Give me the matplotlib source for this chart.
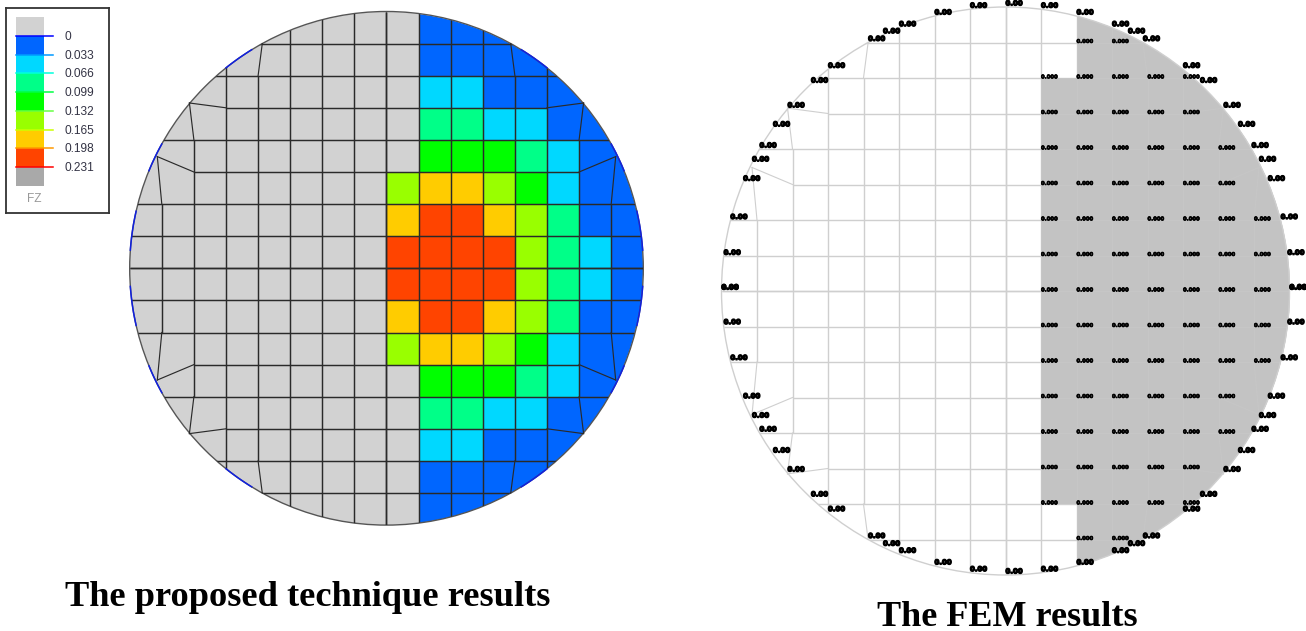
import numpy as np
import matplotlib
matplotlib.use('Agg')
import matplotlib.pyplot as plt
import matplotlib.patheffects as pe
from matplotlib.colors import ListedColormap
from matplotlib.patches import Circle, Rectangle

W, H = 1306, 631

# legend
legend_values = ['0', '0.033', '0.066', '0.099', '0.132', '0.165', '0.198', '0.231']
band_colors = ['#d2d2d2', '#0066ff', '#00d8ff', '#00ff88', '#00ff00', '#99ff00', '#ffcc00', '#ff4400', '#a9a9a9']
tick_colors = ['#0000ff', '#0099ff', '#00ffdd', '#00ff44', '#66ff44', '#ccff00', '#ff9900', '#ff0000']

# band number of each mesh cell, proposed technique (top row first)
proposed = [
    [0, 0, 0, 0, 0, 0, 0, 0, 0, 1, 1, 1, 1, 1, 1, 1],
    [0, 0, 0, 0, 0, 0, 0, 0, 0, 1, 1, 1, 1, 1, 1, 1],
    [0, 0, 0, 0, 0, 0, 0, 0, 0, 2, 2, 1, 1, 1, 1, 1],
    [0, 0, 0, 0, 0, 0, 0, 0, 0, 3, 3, 2, 2, 1, 1, 1],
    [0, 0, 0, 0, 0, 0, 0, 0, 0, 4, 4, 4, 3, 2, 1, 1],
    [0, 0, 0, 0, 0, 0, 0, 0, 5, 6, 6, 5, 4, 2, 1, 1],
    [0, 0, 0, 0, 0, 0, 0, 0, 6, 7, 7, 6, 5, 3, 1, 1],
    [0, 0, 0, 0, 0, 0, 0, 0, 7, 7, 7, 7, 5, 3, 2, 1],
    [0, 0, 0, 0, 0, 0, 0, 0, 7, 7, 7, 7, 5, 3, 2, 1],
    [0, 0, 0, 0, 0, 0, 0, 0, 6, 7, 7, 6, 5, 3, 1, 1],
    [0, 0, 0, 0, 0, 0, 0, 0, 5, 6, 6, 5, 4, 2, 1, 1],
    [0, 0, 0, 0, 0, 0, 0, 0, 0, 4, 4, 4, 3, 2, 1, 1],
    [0, 0, 0, 0, 0, 0, 0, 0, 0, 3, 3, 2, 2, 1, 1, 1],
    [0, 0, 0, 0, 0, 0, 0, 0, 0, 2, 2, 1, 1, 1, 1, 1],
    [0, 0, 0, 0, 0, 0, 0, 0, 0, 1, 1, 1, 1, 1, 1, 1],
    [0, 0, 0, 0, 0, 0, 0, 0, 0, 1, 1, 1, 1, 1, 1, 1],
]

# 1 where the FEM plot shades the cell
fem_zone = [
    [0, 0, 0, 0, 0, 0, 0, 0, 0, 0, 1, 1, 1, 1, 1, 1],
    [0, 0, 0, 0, 0, 0, 0, 0, 0, 0, 1, 1, 1, 1, 1, 1],
    [0, 0, 0, 0, 0, 0, 0, 0, 0, 1, 1, 1, 1, 1, 1, 1],
    [0, 0, 0, 0, 0, 0, 0, 0, 0, 1, 1, 1, 1, 1, 1, 1],
    [0, 0, 0, 0, 0, 0, 0, 0, 0, 1, 1, 1, 1, 1, 1, 1],
    [0, 0, 0, 0, 0, 0, 0, 0, 0, 1, 1, 1, 1, 1, 1, 1],
    [0, 0, 0, 0, 0, 0, 0, 0, 0, 1, 1, 1, 1, 1, 1, 1],
    [0, 0, 0, 0, 0, 0, 0, 0, 0, 1, 1, 1, 1, 1, 1, 1],
    [0, 0, 0, 0, 0, 0, 0, 0, 0, 1, 1, 1, 1, 1, 1, 1],
    [0, 0, 0, 0, 0, 0, 0, 0, 0, 1, 1, 1, 1, 1, 1, 1],
    [0, 0, 0, 0, 0, 0, 0, 0, 0, 1, 1, 1, 1, 1, 1, 1],
    [0, 0, 0, 0, 0, 0, 0, 0, 0, 1, 1, 1, 1, 1, 1, 1],
    [0, 0, 0, 0, 0, 0, 0, 0, 0, 1, 1, 1, 1, 1, 1, 1],
    [0, 0, 0, 0, 0, 0, 0, 0, 0, 1, 1, 1, 1, 1, 1, 1],
    [0, 0, 0, 0, 0, 0, 0, 0, 0, 0, 1, 1, 1, 1, 1, 1],
    [0, 0, 0, 0, 0, 0, 0, 0, 0, 0, 1, 1, 1, 1, 1, 1],
]

# mesh, in cell units from the disc centre (first quadrant, mirrored later)
radius = 8
v_lines = [(0, 8), (1, 8), (2, 8), (3, 8), (4, 6), (5, 8), (6, 4), (7, 2)]   # x, up to |y|
h_lines = [(0, 8), (1, 8), (2, 8), (3, 6), (4, 8), (5, 5), (6, 8), (7, 8)]   # y, up to |x|
bent_lines = [
    ([4, 3.87], [6, 7]),
    ([5, 6.14], [5, 5.15]),
    ([6, 6.14], [4, 5.15]),
    ([6, 7.14], [3, 3.48]),
    ([7, 7.14], [2, 3.48]),
]
blue_rim = [(4.2, 5.0), (7.0, 7.4), (7.8, 7.98)]

# FEM node labels: row y, first and last column
node_rows = [(7, 2, 3), (6, 1, 5), (5, 1, 5), (4, 1, 6), (3, 1, 6), (2, 1, 7), (1, 1, 7), (0, 1, 7),
             (-1, 1, 7), (-2, 1, 7), (-3, 1, 6), (-4, 1, 6), (-5, 1, 5), (-6, 1, 5), (-7, 2, 3)]
rim_nodes = [0, 1, 2, 3, 3.45, 3.87, 5, 5.48, 6.14, 6.55, 6.93, 7.14, 7.39, 7.75, 7.94, 8]


def panel(cx, cy, cell):
    # axes whose unit is one mesh cell, centred on the disc at pixel (cx, cy)
    half = 8.3 * cell
    ax = fig.add_axes([(cx - half) / W, 1 - (cy + half) / H, 2 * half / W, 2 * half / H])
    ax.set_xlim(-8.3, 8.3)
    ax.set_ylim(-8.3, 8.3)
    ax.axis('off')
    return ax


def draw_mesh(ax, color, lw, clip):
    for x, top in v_lines:
        for s in (1, -1):
            l, = ax.plot([s * x, s * x], [-top, top], color=color, lw=lw, solid_capstyle='butt')
            l.set_clip_path(clip)
    for y, end in h_lines:
        for s in (1, -1):
            l, = ax.plot([-end, end], [s * y, s * y], color=color, lw=lw, solid_capstyle='butt')
            l.set_clip_path(clip)
    for xs, ys in bent_lines:
        for sx in (1, -1):
            for sy in (1, -1):
                ax.plot(sx * np.array(xs), sy * np.array(ys), color=color, lw=lw * 0.8)


fig = plt.figure(figsize=(W / 100, H / 100), dpi=100, facecolor='white')
edges = np.arange(-8, 9)

# proposed technique
ax1 = panel(386.5, 268.3, 32.1)
disc = Circle((0, 0), radius, transform=ax1.transData)
mesh = ax1.pcolormesh(edges, edges[::-1], np.array(proposed), cmap=ListedColormap(band_colors[:8]),
                      vmin=-0.5, vmax=7.5, antialiased=False)
mesh.set_clip_path(disc)
draw_mesh(ax1, '#2a2a2a', 1.05, disc)
ax1.add_patch(Circle((0, 0), radius, fill=False, ec='#555555', lw=1.0))
for a, b in blue_rim:
    xr = np.linspace(a, b, 20)
    yr = np.sqrt(radius ** 2 - xr ** 2)
    for sx in (1, -1):
        for sy in (1, -1):
            ax1.plot(sx * xr, sy * yr, color='#1020e0', lw=1.1)

# FEM
ax2 = panel(1005.5, 291, 35.5)
disc2 = Circle((0, 0), radius, transform=ax2.transData)
zone = ax2.pcolormesh(edges, edges[::-1], np.array(fem_zone), cmap=ListedColormap(['white', '#c3c3c3']),
                      vmin=0, vmax=1, antialiased=False)
zone.set_clip_path(disc2)
draw_mesh(ax2, '#cfcfcf', 1.0, disc2)
# mesh nearly disappears over the shaded zone
shade = ax2.pcolormesh(edges, edges[::-1], np.ma.masked_equal(np.array(fem_zone), 0),
                       cmap=ListedColormap(['#c3c3c3']), alpha=0.75, antialiased=False, zorder=3)
shade.set_clip_path(disc2)
ax2.add_patch(Circle((0, 0), radius, fill=False, ec='#cfcfcf', lw=1.0, zorder=3))

for y, first, last in node_rows:
    for x in range(first, last + 1):
        t = ax2.text(x, y + 0.03, '0.000', fontsize=3.8, fontweight='bold', color='black',
                     ha='left', va='center', zorder=5)
        t.set_path_effects([pe.withStroke(linewidth=0.5, foreground='black')])
for x in rim_nodes:
    y = np.sqrt(max(radius ** 2 - x ** 2, 0))
    for sx in (1, -1):
        for sy in (1, -1):
            if sx < 0 and x == 0:
                continue
            t = ax2.text(sx * x, sy * y + 0.1, '0.00', fontsize=5, fontweight='bold', color='black',
                         ha='left', va='center', zorder=5)
            t.set_path_effects([pe.withStroke(linewidth=0.9, foreground='black')])

# legend box
lax = fig.add_axes([6 / W, 1 - 213 / H, 103 / W, 205 / H])
lax.set_xlim(6, 109)
lax.set_ylim(213, 8)
lax.set_xticks([])
lax.set_yticks([])
for side in lax.spines.values():
    side.set_color('#333333')
    side.set_linewidth(1.3)
step = 18.72
for i, c in enumerate(band_colors):
    lax.add_patch(Rectangle((16, 36 + (i - 1) * step), 28, step, fc=c, ec='none'))
for i, (v, c) in enumerate(zip(legend_values, tick_colors)):
    lax.plot([16, 53], [36 + i * step] * 2, color=c, lw=1.1)
    lax.text(65, 37 + i * step, v, fontsize=8.6, family='Liberation Sans', color='#333344', ha='left', va='center')
lax.text(34, 199, 'FZ', fontsize=8.6, family='Liberation Sans', color='#999999', ha='center', va='center')

fig.text(308 / W, 1 - 597 / H, 'The proposed technique results', fontsize=26.2, family='Liberation Serif',
         fontweight='bold', ha='center', va='center')
fig.text(1007 / W, 1 - 617 / H, 'The FEM results', fontsize=26, family='Liberation Serif',
         fontweight='bold', ha='center', va='center')

plt.savefig('out.png', dpi=100)
